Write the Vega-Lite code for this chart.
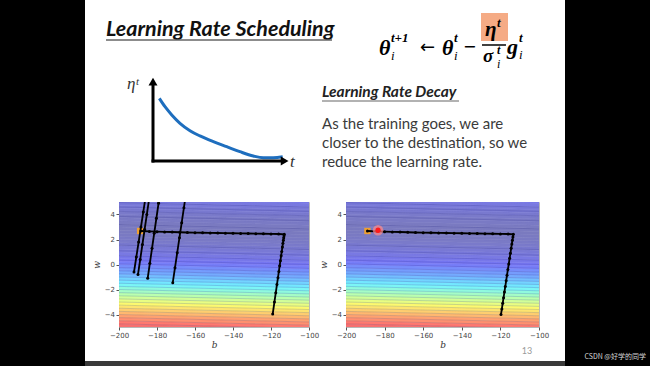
{
"$schema": "https://vega.github.io/schema/vega-lite/v6.json",
"background": "white",
"padding": 0,
"columns": 7,
"spacing": 0,
"bounds": "flush",
"align": "each",
"config": {"view": {"stroke": null},
  "axis": {"grid": false, "domain": false, "tickSize": 3, "tickColor": "#555", "labelFont": "DejaVu Sans", "labelFontSize": 7, "labelColor": "#444", "labelPadding": 1.5, "labelFlush": false, "labelOverlap": false, "labelBound": false, "titleFont": "DejaVu Serif", "titleFontSize": 9, "titleFontStyle": "italic", "titleFontWeight": "normal", "titleColor": "#333"},
  "axisX": {"titlePadding": 2},
  "axisY": {"titlePadding": 3}},
"datasets": {
"decay": [{"t":0.47,"eta":7.46},{"t":0.89,"eta":6.46},{"t":1.39,"eta":5.48},{"t":2.0,"eta":4.49},{"t":2.74,"eta":3.61},{"t":3.48,"eta":2.98},{"t":4.47,"eta":2.3},{"t":5.46,"eta":1.7},{"t":6.44,"eta":1.11},{"t":7.43,"eta":0.6},{"t":8.17,"eta":0.39},{"t":8.91,"eta":0.39},{"t":9.61,"eta":0.51}],
"bands": [
{"k":0,"b":-200,"lo":-5,"hi":-4.75,"level":0.89},{"k":0,"b":-100,"lo":-5.35,"hi":-5.1,"level":0.89},
{"k":1,"b":-200,"lo":-4.75,"hi":-4.5,"level":0.86},{"k":1,"b":-100,"lo":-5.1,"hi":-4.85,"level":0.86},
{"k":2,"b":-200,"lo":-4.5,"hi":-4.25,"level":0.82},{"k":2,"b":-100,"lo":-4.85,"hi":-4.6,"level":0.82},
{"k":3,"b":-200,"lo":-4.25,"hi":-4,"level":0.79},{"k":3,"b":-100,"lo":-4.6,"hi":-4.35,"level":0.79},
{"k":4,"b":-200,"lo":-4,"hi":-3.75,"level":0.75},{"k":4,"b":-100,"lo":-4.35,"hi":-4.1,"level":0.75},
{"k":5,"b":-200,"lo":-3.75,"hi":-3.5,"level":0.71},{"k":5,"b":-100,"lo":-4.1,"hi":-3.85,"level":0.71},
{"k":6,"b":-200,"lo":-3.5,"hi":-3.25,"level":0.67},{"k":6,"b":-100,"lo":-3.85,"hi":-3.6,"level":0.67},
{"k":7,"b":-200,"lo":-3.25,"hi":-3,"level":0.63},{"k":7,"b":-100,"lo":-3.6,"hi":-3.35,"level":0.63},
{"k":8,"b":-200,"lo":-3,"hi":-2.75,"level":0.59},{"k":8,"b":-100,"lo":-3.35,"hi":-3.1,"level":0.59},
{"k":9,"b":-200,"lo":-2.75,"hi":-2.5,"level":0.55},{"k":9,"b":-100,"lo":-3.1,"hi":-2.85,"level":0.55},
{"k":10,"b":-200,"lo":-2.5,"hi":-2.25,"level":0.51},{"k":10,"b":-100,"lo":-2.85,"hi":-2.6,"level":0.51},
{"k":11,"b":-200,"lo":-2.25,"hi":-2,"level":0.47},{"k":11,"b":-100,"lo":-2.6,"hi":-2.35,"level":0.47},
{"k":12,"b":-200,"lo":-2,"hi":-1.75,"level":0.43},{"k":12,"b":-100,"lo":-2.35,"hi":-2.1,"level":0.43},
{"k":13,"b":-200,"lo":-1.75,"hi":-1.5,"level":0.39},{"k":13,"b":-100,"lo":-2.1,"hi":-1.85,"level":0.39},
{"k":14,"b":-200,"lo":-1.5,"hi":-1.25,"level":0.35},{"k":14,"b":-100,"lo":-1.85,"hi":-1.6,"level":0.35},
{"k":15,"b":-200,"lo":-1.25,"hi":-1,"level":0.31},{"k":15,"b":-100,"lo":-1.6,"hi":-1.35,"level":0.31},
{"k":16,"b":-200,"lo":-1,"hi":-0.75,"level":0.27},{"k":16,"b":-100,"lo":-1.35,"hi":-1.1,"level":0.27},
{"k":17,"b":-200,"lo":-0.75,"hi":-0.5,"level":0.23},{"k":17,"b":-100,"lo":-1.1,"hi":-0.85,"level":0.23},
{"k":18,"b":-200,"lo":-0.5,"hi":-0.25,"level":0.2},{"k":18,"b":-100,"lo":-0.85,"hi":-0.6,"level":0.2},
{"k":19,"b":-200,"lo":-0.25,"hi":0,"level":0.17},{"k":19,"b":-100,"lo":-0.6,"hi":-0.35,"level":0.17},
{"k":20,"b":-200,"lo":0,"hi":0.25,"level":0.14},{"k":20,"b":-100,"lo":-0.35,"hi":-0.1,"level":0.14},
{"k":21,"b":-200,"lo":0.25,"hi":0.5,"level":0.115},{"k":21,"b":-100,"lo":-0.1,"hi":0.15,"level":0.115},
{"k":22,"b":-200,"lo":0.5,"hi":0.75,"level":0.095},{"k":22,"b":-100,"lo":0.15,"hi":0.4,"level":0.095},
{"k":23,"b":-200,"lo":0.75,"hi":1,"level":0.078},{"k":23,"b":-100,"lo":0.4,"hi":0.65,"level":0.078},
{"k":24,"b":-200,"lo":1,"hi":1.25,"level":0.062},{"k":24,"b":-100,"lo":0.65,"hi":0.9,"level":0.062},
{"k":25,"b":-200,"lo":1.25,"hi":1.5,"level":0.048},{"k":25,"b":-100,"lo":0.9,"hi":1.15,"level":0.048},
{"k":26,"b":-200,"lo":1.5,"hi":1.75,"level":0.036},{"k":26,"b":-100,"lo":1.15,"hi":1.4,"level":0.036},
{"k":27,"b":-200,"lo":1.75,"hi":2,"level":0.025},{"k":27,"b":-100,"lo":1.4,"hi":1.65,"level":0.025},
{"k":28,"b":-200,"lo":2,"hi":2.25,"level":0.016},{"k":28,"b":-100,"lo":1.65,"hi":1.9,"level":0.016},
{"k":29,"b":-200,"lo":2.25,"hi":2.5,"level":0.009},{"k":29,"b":-100,"lo":1.9,"hi":2.15,"level":0.009},
{"k":30,"b":-200,"lo":2.5,"hi":2.75,"level":0.004},{"k":30,"b":-100,"lo":2.15,"hi":2.4,"level":0.004},
{"k":31,"b":-200,"lo":2.75,"hi":3,"level":0.001},{"k":31,"b":-100,"lo":2.4,"hi":2.65,"level":0.001},
{"k":32,"b":-200,"lo":3,"hi":3.25,"level":0.002},{"k":32,"b":-100,"lo":2.65,"hi":2.9,"level":0.002},
{"k":33,"b":-200,"lo":3.25,"hi":3.5,"level":0.005},{"k":33,"b":-100,"lo":2.9,"hi":3.15,"level":0.005},
{"k":34,"b":-200,"lo":3.5,"hi":3.75,"level":0.01},{"k":34,"b":-100,"lo":3.15,"hi":3.4,"level":0.01},
{"k":35,"b":-200,"lo":3.75,"hi":4,"level":0.016},{"k":35,"b":-100,"lo":3.4,"hi":3.65,"level":0.016},
{"k":36,"b":-200,"lo":4,"hi":4.25,"level":0.024},{"k":36,"b":-100,"lo":3.65,"hi":3.9,"level":0.024},
{"k":37,"b":-200,"lo":4.25,"hi":4.5,"level":0.034},{"k":37,"b":-100,"lo":3.9,"hi":4.15,"level":0.034},
{"k":38,"b":-200,"lo":4.5,"hi":4.75,"level":0.045},{"k":38,"b":-100,"lo":4.15,"hi":4.4,"level":0.045},
{"k":39,"b":-200,"lo":4.75,"hi":5,"level":0.058},{"k":39,"b":-100,"lo":4.4,"hi":4.65,"level":0.058},
{"k":40,"b":-200,"lo":5,"hi":5.25,"level":0.072},{"k":40,"b":-100,"lo":4.65,"hi":4.9,"level":0.072},
{"k":41,"b":-200,"lo":5.25,"hi":5.5,"level":0.087},{"k":41,"b":-100,"lo":4.9,"hi":5.15,"level":0.087}
],
"contours": [
{"w0":4.95,"w1":4.6},{"w0":4.6,"w1":4.25},{"w0":4.25,"w1":3.9},{"w0":3.85,"w1":3.5},{"w0":3.2,"w1":2.85},{"w0":1.55,"w1":1.2},{"w0":1.1,"w1":0.75},{"w0":0.7,"w1":0.35},{"w0":0.35,"w1":0.0},{"w0":0.05,"w1":-0.3},{"w0":-0.25,"w1":-0.6},{"w0":-0.5,"w1":-0.85},{"w0":-0.75,"w1":-1.1},{"w0":-1.0,"w1":-1.35},{"w0":-1.25,"w1":-1.6},{"w0":-1.5,"w1":-1.85},{"w0":-1.75,"w1":-2.1},{"w0":-2.0,"w1":-2.35},{"w0":-2.25,"w1":-2.6},{"w0":-2.5,"w1":-2.85},{"w0":-2.75,"w1":-3.1},{"w0":-3.0,"w1":-3.35},{"w0":-3.25,"w1":-3.6},{"w0":-3.5,"w1":-3.85},{"w0":-3.75,"w1":-4.1},{"w0":-4.0,"w1":-4.35},{"w0":-4.25,"w1":-4.6},{"w0":-4.5,"w1":-4.85},{"w0":-4.75,"w1":-5.1}
],
"trajL": [
{"s":"m","i":0,"b":-119.1,"w":-3.96},{"s":"m","i":1,"b":-118.19,"w":-3.0},{"s":"m","i":2,"b":-117.48,"w":-2.25},{"s":"m","i":3,"b":-116.86,"w":-1.6},{"s":"m","i":4,"b":-116.33,"w":-1.05},{"s":"m","i":5,"b":-115.86,"w":-0.55},{"s":"m","i":6,"b":-115.43,"w":-0.1},{"s":"m","i":7,"b":-115.05,"w":0.3},{"s":"m","i":8,"b":-114.67,"w":0.7},{"s":"m","i":9,"b":-114.33,"w":1.05},{"s":"m","i":10,"b":-114.0,"w":1.4},{"s":"m","i":11,"b":-113.72,"w":1.7},{"s":"m","i":12,"b":-113.48,"w":1.95},{"s":"m","i":13,"b":-113.29,"w":2.15},{"s":"m","i":14,"b":-113.14,"w":2.3},{"s":"m","i":15,"b":-113.03,"w":2.42},
{"s":"m","i":16,"b":-116,"w":2.44},{"s":"m","i":17,"b":-120,"w":2.45},{"s":"m","i":18,"b":-124,"w":2.46},{"s":"m","i":19,"b":-128,"w":2.47},{"s":"m","i":20,"b":-132,"w":2.48},{"s":"m","i":21,"b":-136,"w":2.49},{"s":"m","i":22,"b":-140,"w":2.5},{"s":"m","i":23,"b":-144,"w":2.51},{"s":"m","i":24,"b":-148,"w":2.52},{"s":"m","i":25,"b":-152,"w":2.53},{"s":"m","i":26,"b":-156,"w":2.54},{"s":"m","i":27,"b":-160,"w":2.55},{"s":"m","i":28,"b":-164,"w":2.56},{"s":"m","i":29,"b":-168,"w":2.58},{"s":"m","i":30,"b":-172,"w":2.6},{"s":"m","i":31,"b":-176,"w":2.61},{"s":"m","i":32,"b":-180,"w":2.63},{"s":"m","i":33,"b":-184,"w":2.65},{"s":"m","i":34,"b":-188.5,"w":2.68},
{"s":"a","i":0,"b":-192.1,"w":-0.6},{"s":"a","i":1,"b":-190.88,"w":0.6},{"s":"a","i":2,"b":-189.66,"w":1.8},{"s":"a","i":3,"b":-188.44,"w":3.0},{"s":"a","i":4,"b":-187.22,"w":4.2},{"s":"a","i":5,"b":-186.0,"w":5.4},
{"s":"b","i":0,"b":-190.0,"w":-0.8},{"s":"b","i":1,"b":-188.84,"w":0.4},{"s":"b","i":2,"b":-187.68,"w":1.6},{"s":"b","i":3,"b":-186.52,"w":2.8},{"s":"b","i":4,"b":-185.35,"w":4.0},{"s":"b","i":5,"b":-184.19,"w":5.2},
{"s":"c","i":0,"b":-184.9,"w":-1.1},{"s":"c","i":1,"b":-183.76,"w":0.1},{"s":"c","i":2,"b":-182.61,"w":1.3},{"s":"c","i":3,"b":-181.47,"w":2.5},{"s":"c","i":4,"b":-180.32,"w":3.7},{"s":"c","i":5,"b":-179.18,"w":4.9},{"s":"c","i":6,"b":-178.7,"w":5.4},
{"s":"d","i":0,"b":-171.7,"w":-1.45},{"s":"d","i":1,"b":-170.53,"w":-0.25},{"s":"d","i":2,"b":-169.35,"w":0.95},{"s":"d","i":3,"b":-168.18,"w":2.15},{"s":"d","i":4,"b":-167.0,"w":3.35},{"s":"d","i":5,"b":-165.83,"w":4.55},{"s":"d","i":6,"b":-165.0,"w":5.4}
],
"trajR": [
{"s":"m","i":0,"b":-119.7,"w":-4.0},{"s":"m","i":1,"b":-119.25,"w":-3.55},{"s":"m","i":2,"b":-118.8,"w":-3.1},{"s":"m","i":3,"b":-118.36,"w":-2.65},{"s":"m","i":4,"b":-117.91,"w":-2.2},{"s":"m","i":5,"b":-117.46,"w":-1.75},{"s":"m","i":6,"b":-117.01,"w":-1.3},{"s":"m","i":7,"b":-116.57,"w":-0.85},{"s":"m","i":8,"b":-116.12,"w":-0.4},{"s":"m","i":9,"b":-115.66,"w":0.05},{"s":"m","i":10,"b":-115.21,"w":0.5},{"s":"m","i":11,"b":-114.81,"w":0.9},{"s":"m","i":12,"b":-114.42,"w":1.3},{"s":"m","i":13,"b":-114.07,"w":1.65},{"s":"m","i":14,"b":-113.77,"w":1.95},{"s":"m","i":15,"b":-113.52,"w":2.2},{"s":"m","i":16,"b":-113.3,"w":2.42},
{"s":"m","i":17,"b":-116,"w":2.44},{"s":"m","i":18,"b":-120,"w":2.45},{"s":"m","i":19,"b":-124,"w":2.46},{"s":"m","i":20,"b":-128,"w":2.47},{"s":"m","i":21,"b":-132,"w":2.48},{"s":"m","i":22,"b":-136,"w":2.49},{"s":"m","i":23,"b":-140,"w":2.5},{"s":"m","i":24,"b":-144,"w":2.51},{"s":"m","i":25,"b":-148,"w":2.52},{"s":"m","i":26,"b":-152,"w":2.53},{"s":"m","i":27,"b":-156,"w":2.54},{"s":"m","i":28,"b":-160,"w":2.55},{"s":"m","i":29,"b":-164,"w":2.56},{"s":"m","i":30,"b":-168,"w":2.58},{"s":"m","i":31,"b":-172,"w":2.6},{"s":"m","i":32,"b":-176,"w":2.61},{"s":"m","i":33,"b":-180,"w":2.63},{"s":"m","i":34,"b":-184,"w":2.65},{"s":"m","i":35,"b":-188.9,"w":2.68}
]
},
"concat": [
{"width": 85, "height": 202, "view": {"fill": "black", "stroke": null}, "data": {"values": [{}]}, "mark": {"type": "rect", "color": "black"}, "encoding": {}},
{"width": 34, "height": 1, "data": {"values": []}, "mark": "point", "encoding": {}},
{"width": 190, "height": 202, "data": {"values": [{}]},
 "layer": [
  {"data": {"name": "decay"}, "mark": {"type": "line", "color": "#1e6ebe", "strokeWidth": 3, "interpolate": "monotone"},
   "encoding": {"x": {"field": "t", "type": "quantitative", "scale": {"domain": [-2.519, 11.556], "nice": false, "zero": false}, "axis": null},
                "y": {"field": "eta", "type": "quantitative", "scale": {"domain": [-4.881, 19.167], "nice": false, "zero": false}, "axis": null}}},
  {"mark": {"type": "rule", "color": "black", "strokeWidth": 3}, "encoding": {"x": {"datum": 0, "type": "quantitative"}, "y": {"datum": -0.18, "type": "quantitative"}, "y2": {"datum": 9.3}}},
  {"mark": {"type": "rule", "color": "black", "strokeWidth": 3}, "encoding": {"x": {"datum": -0.11, "type": "quantitative"}, "x2": {"datum": 9.6}, "y": {"datum": 0, "type": "quantitative"}}},
  {"mark": {"type": "point", "shape": "triangle-up", "filled": true, "color": "black", "opacity": 1, "size": 80}, "encoding": {"x": {"datum": 0, "type": "quantitative"}, "y": {"datum": 9.45, "type": "quantitative"}}},
  {"mark": {"type": "point", "shape": "triangle-right", "filled": true, "color": "black", "opacity": 1, "size": 80}, "encoding": {"x": {"datum": 9.75, "type": "quantitative"}, "y": {"datum": 0, "type": "quantitative"}}},
  {"mark": {"type": "text", "text": "η", "font": "Liberation Serif", "fontSize": 17, "fontStyle": "italic", "align": "left", "baseline": "alphabetic", "color": "#333"}, "encoding": {"x": {"datum": -1.926, "type": "quantitative"}, "y": {"datum": 8.571, "type": "quantitative"}}},
  {"mark": {"type": "text", "text": "t", "font": "Liberation Serif", "fontSize": 11, "fontStyle": "italic", "align": "left", "baseline": "alphabetic", "color": "#333"}, "encoding": {"x": {"datum": -1.26, "type": "quantitative"}, "y": {"datum": 9.05, "type": "quantitative"}}},
  {"mark": {"type": "text", "text": "t", "font": "Liberation Serif", "fontSize": 17, "fontStyle": "italic", "align": "left", "baseline": "alphabetic", "color": "#333"}, "encoding": {"x": {"datum": 10.148, "type": "quantitative"}, "y": {"datum": -0.714, "type": "quantitative"}}},
  {"mark": {"type": "text", "text": "Learning Rate Scheduling", "font": "Lato", "fontSize": 21.5, "fontStyle": "italic", "fontWeight": "bold", "align": "left", "baseline": "alphabetic", "color": "#111"}, "encoding": {"x": {"datum": -3.481, "type": "quantitative"}, "y": {"datum": 14.917, "type": "quantitative"}}},
  {"mark": {"type": "rule", "color": "#666", "strokeWidth": 1.5}, "encoding": {"x": {"datum": -3.481, "type": "quantitative"}, "x2": {"datum": 13.259}, "y": {"datum": 14.405, "type": "quantitative"}}},
  {"mark": {"type": "rect", "color": "#f5ab85"}, "encoding": {"x": {"datum": 24.296, "type": "quantitative"}, "x2": {"datum": 26.296}, "y": {"datum": 17.619, "type": "quantitative"}, "y2": {"datum": 14.286}}},
  {"mark": {"type": "text", "text": "θ", "font": "Liberation Serif", "fontSize": 22, "fontStyle": "italic", "fontWeight": "bold", "align": "left", "baseline": "alphabetic", "color": "black"}, "encoding": {"x": {"datum": 16.741, "type": "quantitative"}, "y": {"datum": 12.619, "type": "quantitative"}}},
  {"mark": {"type": "text", "text": "t+1", "font": "Liberation Serif", "fontSize": 13, "fontStyle": "italic", "fontWeight": "bold", "align": "left", "baseline": "alphabetic", "color": "black"}, "encoding": {"x": {"datum": 17.63, "type": "quantitative"}, "y": {"datum": 14.167, "type": "quantitative"}}},
  {"mark": {"type": "text", "text": "i", "font": "Liberation Serif", "fontSize": 13, "fontStyle": "italic", "align": "left", "baseline": "alphabetic", "color": "black"}, "encoding": {"x": {"datum": 17.63, "type": "quantitative"}, "y": {"datum": 12.024, "type": "quantitative"}}},
  {"mark": {"type": "text", "text": "←", "font": "DejaVu Sans", "fontSize": 18, "align": "left", "baseline": "alphabetic", "color": "black"}, "encoding": {"x": {"datum": 19.778, "type": "quantitative"}, "y": {"datum": 12.857, "type": "quantitative"}}},
  {"mark": {"type": "text", "text": "θ", "font": "Liberation Serif", "fontSize": 22, "fontStyle": "italic", "fontWeight": "bold", "align": "left", "baseline": "alphabetic", "color": "black"}, "encoding": {"x": {"datum": 21.407, "type": "quantitative"}, "y": {"datum": 12.619, "type": "quantitative"}}},
  {"mark": {"type": "text", "text": "t", "font": "Liberation Serif", "fontSize": 13, "fontStyle": "italic", "fontWeight": "bold", "align": "left", "baseline": "alphabetic", "color": "black"}, "encoding": {"x": {"datum": 22.296, "type": "quantitative"}, "y": {"datum": 14.167, "type": "quantitative"}}},
  {"mark": {"type": "text", "text": "i", "font": "Liberation Serif", "fontSize": 13, "fontStyle": "italic", "align": "left", "baseline": "alphabetic", "color": "black"}, "encoding": {"x": {"datum": 22.296, "type": "quantitative"}, "y": {"datum": 12.024, "type": "quantitative"}}},
  {"mark": {"type": "text", "text": "−", "font": "DejaVu Sans", "fontSize": 16, "align": "left", "baseline": "alphabetic", "color": "black"}, "encoding": {"x": {"datum": 22.963, "type": "quantitative"}, "y": {"datum": 12.976, "type": "quantitative"}}},
  {"mark": {"type": "text", "text": "η", "font": "Liberation Serif", "fontSize": 21, "fontStyle": "italic", "fontWeight": "bold", "align": "left", "baseline": "alphabetic", "color": "black"}, "encoding": {"x": {"datum": 24.593, "type": "quantitative"}, "y": {"datum": 14.881, "type": "quantitative"}}},
  {"mark": {"type": "text", "text": "t", "font": "Liberation Serif", "fontSize": 13, "fontStyle": "italic", "fontWeight": "bold", "align": "left", "baseline": "alphabetic", "color": "black"}, "encoding": {"x": {"datum": 25.481, "type": "quantitative"}, "y": {"datum": 15.952, "type": "quantitative"}}},
  {"mark": {"type": "rule", "color": "black", "strokeWidth": 1.5}, "encoding": {"x": {"datum": 24.37, "type": "quantitative"}, "x2": {"datum": 26.148}, "y": {"datum": 13.81, "type": "quantitative"}}},
  {"mark": {"type": "text", "text": "σ", "font": "Liberation Serif", "fontSize": 19, "fontStyle": "italic", "fontWeight": "bold", "align": "left", "baseline": "alphabetic", "color": "black"}, "encoding": {"x": {"datum": 24.444, "type": "quantitative"}, "y": {"datum": 11.786, "type": "quantitative"}}},
  {"mark": {"type": "text", "text": "t", "font": "Liberation Serif", "fontSize": 12, "fontStyle": "italic", "fontWeight": "bold", "align": "left", "baseline": "alphabetic", "color": "black"}, "encoding": {"x": {"datum": 25.481, "type": "quantitative"}, "y": {"datum": 12.738, "type": "quantitative"}}},
  {"mark": {"type": "text", "text": "i", "font": "Liberation Serif", "fontSize": 12, "fontStyle": "italic", "align": "left", "baseline": "alphabetic", "color": "black"}, "encoding": {"x": {"datum": 25.481, "type": "quantitative"}, "y": {"datum": 11.071, "type": "quantitative"}}},
  {"mark": {"type": "text", "text": "g", "font": "Liberation Serif", "fontSize": 22, "fontStyle": "italic", "fontWeight": "bold", "align": "left", "baseline": "alphabetic", "color": "black"}, "encoding": {"x": {"datum": 26.222, "type": "quantitative"}, "y": {"datum": 12.738, "type": "quantitative"}}},
  {"mark": {"type": "text", "text": "t", "font": "Liberation Serif", "fontSize": 13, "fontStyle": "italic", "fontWeight": "bold", "align": "left", "baseline": "alphabetic", "color": "black"}, "encoding": {"x": {"datum": 27.111, "type": "quantitative"}, "y": {"datum": 14.167, "type": "quantitative"}}},
  {"mark": {"type": "text", "text": "i", "font": "Liberation Serif", "fontSize": 13, "fontStyle": "italic", "align": "left", "baseline": "alphabetic", "color": "black"}, "encoding": {"x": {"datum": 27.111, "type": "quantitative"}, "y": {"datum": 12.143, "type": "quantitative"}}},
  {"mark": {"type": "text", "text": "Learning Rate Decay", "font": "Lato", "fontSize": 15.5, "fontStyle": "italic", "fontWeight": "bold", "align": "left", "baseline": "alphabetic", "color": "#222"}, "encoding": {"x": {"datum": 12.519, "type": "quantitative"}, "y": {"datum": 7.583, "type": "quantitative"}}},
  {"mark": {"type": "rule", "color": "#666", "strokeWidth": 1.2}, "encoding": {"x": {"datum": 12.519, "type": "quantitative"}, "x2": {"datum": 22.667}, "y": {"datum": 7.143, "type": "quantitative"}}},
  {"mark": {"type": "text", "text": ["As the training goes, we are", "closer to the destination, so we", "reduce the learning rate."], "lineHeight": 18.7, "font": "Lato", "fontSize": 15, "align": "left", "baseline": "alphabetic", "color": "#3b3b3b"}, "encoding": {"x": {"datum": 12.519, "type": "quantitative"}, "y": {"datum": 3.774, "type": "quantitative"}}}
 ]},
{"width": 37, "height": 1, "data": {"values": []}, "mark": "point", "encoding": {}},
{"width": 193, "height": 1, "data": {"values": []}, "mark": "point", "encoding": {}},
{"width": 26, "height": 1, "data": {"values": []}, "mark": "point", "encoding": {}},
{"width": 85, "height": 202, "view": {"fill": "black", "stroke": null}, "data": {"values": [{}]}, "mark": {"type": "rect", "color": "black"}, "encoding": {}},

{"width": 85, "height": 159, "view": {"fill": "black", "stroke": null}, "data": {"values": [{}]}, "mark": {"type": "rect", "color": "black"}, "encoding": {}},
{"width": 34, "height": 1, "data": {"values": []}, "mark": "point", "encoding": {}},
{"width": 190, "height": 125, "view": {"stroke": "#b8b8b8"},
 "layer": [
  {"data": {"name": "bands"}, "mark": {"type": "area", "clip": true, "strokeWidth": 0.6, "interpolate": "linear"},
   "encoding": {
    "x": {"field": "b", "type": "quantitative", "scale": {"domain": [-200, -100], "nice": false, "zero": false}, "axis": {"values": [-200, -180, -160, -140, -120, -100], "title": "b"}},
    "y": {"field": "hi", "type": "quantitative", "scale": {"domain": [-5, 5], "nice": false, "zero": false}, "axis": {"values": [-4, -2, 0, 2, 4], "title": "w"}},
    "y2": {"field": "lo"},
    "detail": {"field": "k"},
    "color": {"field": "level", "type": "quantitative", "legend": null, "scale": {"domain": [0, 0.125, 0.25, 0.375, 0.5, 0.625, 0.75, 0.875, 1], "range": ["#7a7abf", "#7878f8", "#74b4ff", "#74f4ff", "#b4ffb4", "#fcfc70", "#ffb870", "#ff7070", "#c07070"], "interpolate": "rgb"}},
    "stroke": {"field": "level", "type": "quantitative", "legend": null, "scale": {"domain": [0, 0.125, 0.25, 0.375, 0.5, 0.625, 0.75, 0.875, 1], "range": ["#7a7abf", "#7878f8", "#74b4ff", "#74f4ff", "#b4ffb4", "#fcfc70", "#ffb870", "#ff7070", "#c07070"], "interpolate": "rgb"}}
   }},
  {"data": {"name": "contours"}, "mark": {"type": "rule", "clip": true, "color": "#1c1c78", "opacity": 0.22, "strokeWidth": 0.8},
   "encoding": {"x": {"datum": -200, "type": "quantitative", "axis": {"values": [-200, -180, -160, -140, -120, -100], "title": "b"}}, "x2": {"datum": -100}, "y": {"field": "w0", "type": "quantitative", "axis": {"values": [-4, -2, 0, 2, 4], "title": "w"}}, "y2": {"field": "w1"}}},
  {"data": {"values": [{"b": -188.9, "w": 2.68}]}, "mark": {"type": "point", "shape": "square", "filled": true, "color": "#f0a030", "opacity": 1, "size": 40},
   "encoding": {"x": {"field": "b", "type": "quantitative", "axis": {"values": [-200, -180, -160, -140, -120, -100], "title": "b"}}, "y": {"field": "w", "type": "quantitative", "axis": {"values": [-4, -2, 0, 2, 4], "title": "w"}}}},
  {"data": {"name": "trajL"}, "mark": {"type": "line", "clip": true, "color": "black", "strokeWidth": 1.8},
   "encoding": {"x": {"field": "b", "type": "quantitative", "axis": {"values": [-200, -180, -160, -140, -120, -100], "title": "b"}}, "y": {"field": "w", "type": "quantitative", "axis": {"values": [-4, -2, 0, 2, 4], "title": "w"}}, "detail": {"field": "s"}, "order": {"field": "i"}}},
  {"data": {"name": "trajL"}, "mark": {"type": "point", "clip": true, "filled": true, "color": "black", "opacity": 1, "size": 9},
   "encoding": {"x": {"field": "b", "type": "quantitative", "axis": {"values": [-200, -180, -160, -140, -120, -100], "title": "b"}}, "y": {"field": "w", "type": "quantitative", "axis": {"values": [-4, -2, 0, 2, 4], "title": "w"}}}}
 ]},
{"width": 37, "height": 1, "data": {"values": []}, "mark": "point", "encoding": {}},
{"width": 193, "height": 125, "view": {"stroke": "#b8b8b8"},
 "layer": [
  {"data": {"name": "bands"}, "mark": {"type": "area", "clip": true, "strokeWidth": 0.6, "interpolate": "linear"},
   "encoding": {
    "x": {"field": "b", "type": "quantitative", "scale": {"domain": [-200, -100], "nice": false, "zero": false}, "axis": {"values": [-200, -180, -160, -140, -120, -100], "title": "b"}},
    "y": {"field": "hi", "type": "quantitative", "scale": {"domain": [-5, 5], "nice": false, "zero": false}, "axis": {"values": [-4, -2, 0, 2, 4], "title": "w"}},
    "y2": {"field": "lo"},
    "detail": {"field": "k"},
    "color": {"field": "level", "type": "quantitative", "legend": null, "scale": {"domain": [0, 0.125, 0.25, 0.375, 0.5, 0.625, 0.75, 0.875, 1], "range": ["#7a7abf", "#7878f8", "#74b4ff", "#74f4ff", "#b4ffb4", "#fcfc70", "#ffb870", "#ff7070", "#c07070"], "interpolate": "rgb"}},
    "stroke": {"field": "level", "type": "quantitative", "legend": null, "scale": {"domain": [0, 0.125, 0.25, 0.375, 0.5, 0.625, 0.75, 0.875, 1], "range": ["#7a7abf", "#7878f8", "#74b4ff", "#74f4ff", "#b4ffb4", "#fcfc70", "#ffb870", "#ff7070", "#c07070"], "interpolate": "rgb"}}
   }},
  {"data": {"name": "contours"}, "mark": {"type": "rule", "clip": true, "color": "#1c1c78", "opacity": 0.22, "strokeWidth": 0.8},
   "encoding": {"x": {"datum": -200, "type": "quantitative", "axis": {"values": [-200, -180, -160, -140, -120, -100], "title": "b"}}, "x2": {"datum": -100}, "y": {"field": "w0", "type": "quantitative", "axis": {"values": [-4, -2, 0, 2, 4], "title": "w"}}, "y2": {"field": "w1"}}},
  {"data": {"values": [{"b": -188.9, "w": 2.68}]}, "mark": {"type": "point", "shape": "square", "filled": true, "color": "#f0a030", "opacity": 1, "size": 40},
   "encoding": {"x": {"field": "b", "type": "quantitative", "axis": {"values": [-200, -180, -160, -140, -120, -100], "title": "b"}}, "y": {"field": "w", "type": "quantitative", "axis": {"values": [-4, -2, 0, 2, 4], "title": "w"}}}},
  {"data": {"name": "trajR"}, "mark": {"type": "line", "clip": true, "color": "black", "strokeWidth": 1.8},
   "encoding": {"x": {"field": "b", "type": "quantitative", "axis": {"values": [-200, -180, -160, -140, -120, -100], "title": "b"}}, "y": {"field": "w", "type": "quantitative", "axis": {"values": [-4, -2, 0, 2, 4], "title": "w"}}, "detail": {"field": "s"}, "order": {"field": "i"}}},
  {"data": {"name": "trajR"}, "mark": {"type": "point", "clip": true, "filled": true, "color": "black", "opacity": 1, "size": 9},
   "encoding": {"x": {"field": "b", "type": "quantitative", "axis": {"values": [-200, -180, -160, -140, -120, -100], "title": "b"}}, "y": {"field": "w", "type": "quantitative", "axis": {"values": [-4, -2, 0, 2, 4], "title": "w"}}}},
  {"data": {"values": [{"b": -183.4, "w": 2.74}]}, "mark": {"type": "point", "filled": true, "color": "#ff8a8a", "opacity": 0.7, "size": 110},
   "encoding": {"x": {"field": "b", "type": "quantitative", "axis": {"values": [-200, -180, -160, -140, -120, -100], "title": "b"}}, "y": {"field": "w", "type": "quantitative", "axis": {"values": [-4, -2, 0, 2, 4], "title": "w"}}}},
  {"data": {"values": [{"b": -183.4, "w": 2.74}]}, "mark": {"type": "point", "filled": true, "color": "#ff1a1a", "opacity": 1, "size": 28},
   "encoding": {"x": {"field": "b", "type": "quantitative", "axis": {"values": [-200, -180, -160, -140, -120, -100], "title": "b"}}, "y": {"field": "w", "type": "quantitative", "axis": {"values": [-4, -2, 0, 2, 4], "title": "w"}}}},
  {"data": {"values": [{}]}, "mark": {"type": "text", "text": "13", "font": "Lato", "fontSize": 9, "color": "#9a9a9a", "align": "center", "baseline": "alphabetic"},
   "encoding": {"x": {"datum": -106.2, "type": "quantitative", "axis": {"values": [-200, -180, -160, -140, -120, -100], "title": "b"}}, "y": {"datum": -7.15, "type": "quantitative", "axis": {"values": [-4, -2, 0, 2, 4], "title": "w"}}}}
 ]},
{"width": 26, "height": 1, "data": {"values": []}, "mark": "point", "encoding": {}},
{"width": 85, "height": 159, "view": {"fill": "black", "stroke": null}, "data": {"values": [{}]}, "mark": {"type": "rect", "color": "black"}, "encoding": {}},

{"width": 85, "height": 5, "view": {"fill": "black", "stroke": null}, "data": {"values": [{}]}, "mark": {"type": "rect", "color": "black"}, "encoding": {}},
{"width": 34, "height": 5, "view": {"fill": "#3a3a3a", "stroke": null}, "data": {"values": [{}]}, "mark": {"type": "rect", "color": "#3a3a3a"}, "encoding": {}},
{"width": 190, "height": 5, "view": {"fill": "#3a3a3a", "stroke": null}, "data": {"values": [{}]}, "mark": {"type": "rect", "color": "#3a3a3a"}, "encoding": {}},
{"width": 37, "height": 5, "view": {"fill": "#3a3a3a", "stroke": null}, "data": {"values": [{}]}, "mark": {"type": "rect", "color": "#3a3a3a"}, "encoding": {}},
{"width": 193, "height": 5, "view": {"fill": "#3a3a3a", "stroke": null}, "data": {"values": [{}]}, "mark": {"type": "rect", "color": "#3a3a3a"}, "encoding": {}},
{"width": 26, "height": 5, "view": {"fill": "#3a3a3a", "stroke": null}, "data": {"values": [{}]}, "mark": {"type": "rect", "color": "#3a3a3a"}, "encoding": {}},
{"width": 85, "height": 5, "view": {"fill": "black", "stroke": null}, "data": {"values": [{}]}, "mark": {"type": "rect", "color": "black"}, "encoding": {},
 "title": {"text": "CSDN @好学的同学", "orient": "top", "anchor": "end", "offset": 1, "dx": -4, "font": "Noto Sans CJK SC", "fontSize": 7, "fontWeight": "normal", "color": "#d8d8d8"}}
]
}
